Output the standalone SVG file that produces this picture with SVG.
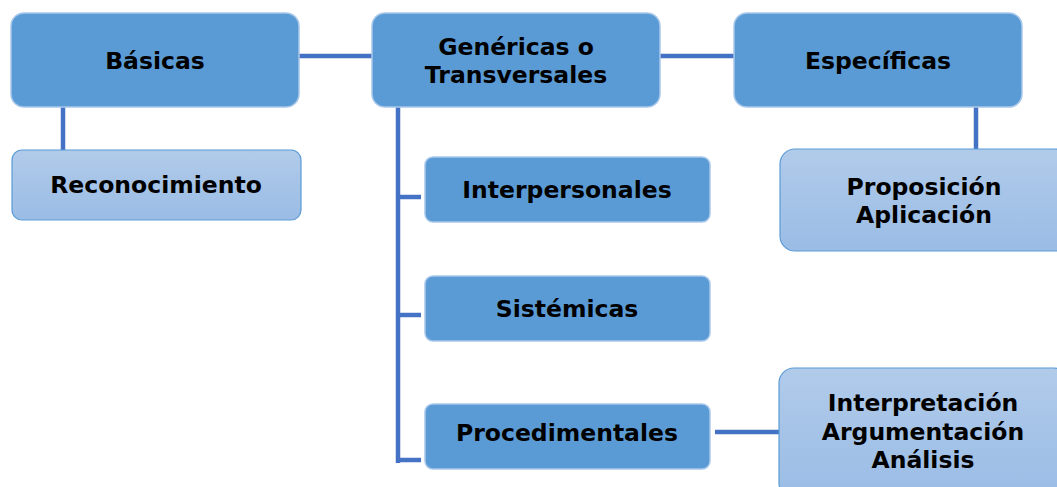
<svg xmlns="http://www.w3.org/2000/svg" width="1057" height="487" viewBox="0 0 1057 487">
<defs>
<linearGradient id="lg" x1="0" y1="0" x2="0" y2="1">
<stop offset="0" stop-color="#b1cbea"/>
<stop offset="1" stop-color="#9abce5"/>
</linearGradient>
<style>
.dark{fill:#5b9bd5;stroke:#a9c8ea;stroke-width:1.5}
.light{fill:url(#lg);stroke:#5b9bd5;stroke-width:1.2}
text{font-family:"DejaVu Sans",Verdana,sans-serif;font-weight:bold;font-size:23.5px;fill:#000;text-anchor:middle;dominant-baseline:central}
.c{stroke:#4472c4;stroke-width:4.5;fill:none}
</style>
</defs>
<rect width="1057" height="487" fill="#fff"/>
<g id="connectors">
<line class="c" x1="299" y1="56" x2="372" y2="56"/>
<line class="c" x1="660" y1="56" x2="734" y2="56"/>
<line class="c" x1="63" y1="104" x2="63" y2="150"/>
<line class="c" x1="976" y1="103" x2="976" y2="149"/>
<line class="c" x1="398" y1="104" x2="398" y2="463"/>
<line class="c" x1="396" y1="197" x2="421" y2="197"/>
<line class="c" x1="396" y1="315" x2="421" y2="315"/>
<line class="c" x1="396" y1="460" x2="421" y2="460"/>
<line class="c" x1="715" y1="432" x2="781" y2="432"/>
</g>
<g id="basicas">
<rect class="dark" x="11" y="13" width="288" height="94" rx="13"/>
<text x="155" y="61">Básicas</text>
</g>
<g id="genericas">
<rect class="dark" x="372" y="13" width="288" height="94" rx="13"/>
<text x="516" y="47">Genéricas o</text>
<text x="516" y="75">Transversales</text>
</g>
<g id="especificas">
<rect class="dark" x="734" y="13" width="288" height="94" rx="13"/>
<text x="878" y="61">Específicas</text>
</g>
<g id="reconocimiento">
<rect class="light" x="12" y="150" width="289" height="70" rx="10"/>
<text x="156" y="185">Reconocimiento</text>
</g>
<g id="interpersonales">
<rect class="dark" x="425" y="157" width="285" height="65" rx="8"/>
<text x="567" y="190">Interpersonales</text>
</g>
<g id="sistemicas">
<rect class="dark" x="425" y="276" width="285" height="65" rx="8"/>
<text x="567" y="309">Sistémicas</text>
</g>
<g id="procedimentales">
<rect class="dark" x="425" y="404" width="285" height="65" rx="8"/>
<text x="567" y="433">Procedimentales</text>
</g>
<g id="proposicion">
<rect class="light" x="780" y="149" width="290" height="102" rx="15"/>
<text x="924" y="187">Proposición</text>
<text x="924" y="215">Aplicación</text>
</g>
<g id="interpretacion">
<rect class="light" x="779" y="368" width="290" height="130" rx="15"/>
<text x="923" y="403">Interpretación</text>
<text x="923" y="432">Argumentación</text>
<text x="923" y="460">Análisis</text>
</g>
</svg>
